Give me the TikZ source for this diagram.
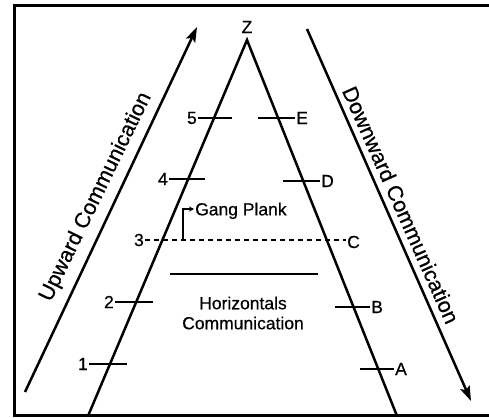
\documentclass[tikz,border=0pt]{standalone}
\usepackage{fontspec}
\setmainfont{Liberation Sans}
\newfontfamily\lblfont{Liberation Sans}[FakeBold=0.6]
\usetikzlibrary{arrows.meta}
\begin{document}
\begin{tikzpicture}[x=1pt,y=-1pt,
  lbl/.style={font=\lblfont\fontsize{17.5}{20}\selectfont, inner sep=1pt},
  sidetext/.style={font=\lblfont\fontsize{21.5}{24}\selectfont, inner sep=0pt},
  heavy/.style={line width=2.5pt},
  bigarrow/.style={heavy,-{Stealth[length=15pt,width=10pt,inset=3pt]}},
  dashline/.style={heavy,dash pattern=on 5pt off 4pt}]
\useasboundingbox (0,0) rectangle (489,417);
% frame
\draw[line width=2.6pt] (489,5.5) -- (14.5,5.5) -- (14.5,415.5) -- (489,415.5);
% triangle legs
\coordinate (apex) at (247,40);
\coordinate (lbot) at (88,416);
\coordinate (rbot) at (397,416);
\draw[heavy] (lbot) -- (apex) -- (rbot);
\node[lbl] (z) at (247,27) {Z};
% left ticks
\node[lbl,anchor=east] (n5) at (198,118) {5};
\coordinate (t5) at (232,118);
\draw[heavy] (n5.east) -- (t5);
\node[lbl,anchor=east] (n4) at (169,179) {4};
\coordinate (t4) at (205,179);
\draw[heavy] (n4.east) -- (t4);
\node[lbl,anchor=east] (n2) at (115,302) {2};
\coordinate (t2) at (153,302);
\draw[heavy] (n2.east) -- (t2);
\node[lbl,anchor=east] (n1) at (89,364) {1};
\coordinate (t1) at (127,364);
\draw[heavy] (n1.east) -- (t1);
% right ticks
\node[lbl,anchor=west] (nE) at (295,118) {E};
\coordinate (tE) at (258,118);
\draw[heavy] (tE) -- (nE.west);
\node[lbl,anchor=west] (nD) at (320,181) {D};
\coordinate (tD) at (283,181);
\draw[heavy] (tD) -- (nD.west);
\node[lbl,anchor=west] (nB) at (370,307) {B};
\coordinate (tB) at (335,307);
\draw[heavy] (tB) -- (nB.west);
\node[lbl,anchor=west] (nA) at (394,369) {A};
\coordinate (tA) at (360,369);
\draw[heavy] (tA) -- (nA.west);
% gang plank
\node[lbl,anchor=east] (n3) at (145,240) {3};
\node[lbl,anchor=west] (nC) at (346,242) {C};
\draw[dashline] (n3.east) -- (n3.east -| nC.west);
\node[lbl,anchor=west,text depth=0pt] (gang) at (194,209) {Gang Plank};
\coordinate (gp) at (183,240);
\draw[line width=1.8pt,-{Stealth[length=5pt,width=5pt]}] (gp) |- (gang.west);
% horizontal communication
\coordinate (h1) at (170,274);
\coordinate (h2) at (318,274);
\draw[heavy] (h1) -- (h2);
\node[lbl,align=center] (hc) at (243,313) {Horizontals\\Communication};
% side arrows
\coordinate (us) at (25,392);
\coordinate (ue) at (197,27);
\draw[bigarrow] (us) -- (ue);
\node[sidetext,rotate=64] (ut) at (96,197) {Upward Communication};
\coordinate (ds) at (307,29);
\coordinate (de) at (471,401);
\draw[bigarrow] (ds) -- (de);
\node[sidetext,rotate=-66] (dt) at (401,205) {Downward Communication};
\end{tikzpicture}
\end{document}
